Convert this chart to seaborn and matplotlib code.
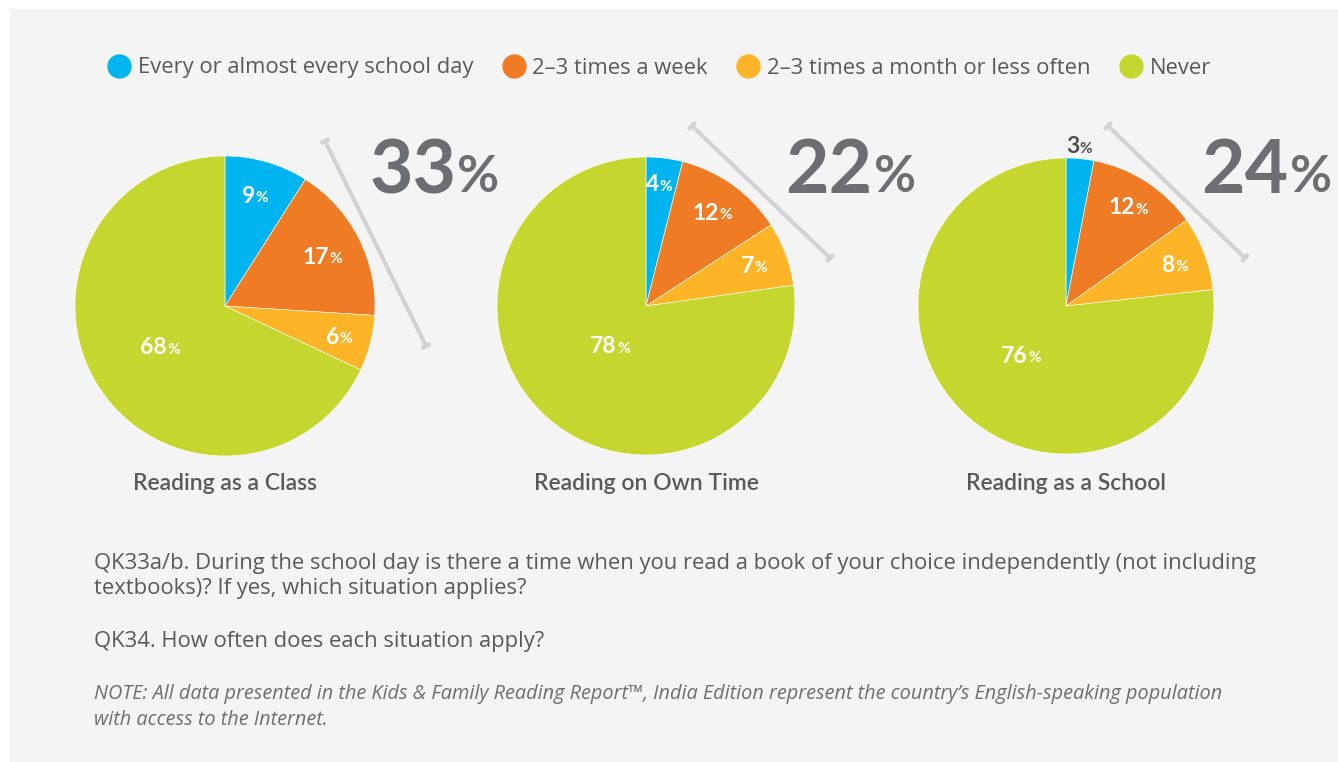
import numpy as np
import pandas as pd
import matplotlib
matplotlib.use("Agg")
import matplotlib.pyplot as plt
from matplotlib.lines import Line2D
from matplotlib.patches import Rectangle
import seaborn as sns

# ---------------- data ----------------
categories = ["Every or almost every school day", "2\u20133 times a week",
              "2\u20133 times a month or less often", "Never"]
pie_titles = ["Reading as a Class", "Reading on Own Time", "Reading as a School"]
class_vals = [9, 17, 6, 68]
own_time_vals = [4, 12, 7, 78]
school_vals = [3, 12, 8, 76]
totals = [33, 22, 24]
question1 = ("QK33a/b. During the school day is there a time when you read a book of your choice independently (not including\n"
             "textbooks)? If yes, which situation applies?")
question2 = "QK34. How often does each situation apply?"
note = ("NOTE: All data presented in the Kids & Family Reading Report\u2122, India Edition represent the country\u2019s English-speaking population\n"
        "with access to the Internet.")

# ---------------- style ----------------
sns.set_theme(style="white")
plt.rcParams['font.family'] = ['Lato', 'DejaVu Sans']
BODY = ['Open Sans', 'DejaVu Sans']
palette = sns.color_palette(["#00b5ef", "#f07b25", "#fdb426", "#c5d72f"])
TXT = "#58595b"
BIG = "#6d6e71"
BG = "#f4f4f4"
W, H = 1338, 762

fig = plt.figure(figsize=(W / 100, H / 100), dpi=100, facecolor="white")
bg = fig.add_axes([0, 0, 1, 1], zorder=0)
bg.set_xlim(0, W)
bg.set_ylim(H, 0)
bg.axis("off")
bg.add_patch(Rectangle((10, 9), W - 10, H - 9, color=BG, zorder=0))

series = [class_vals, own_time_vals, school_vals]
centers = [(225, 306, 150), (646, 306, 149), (1066, 306, 148)]
label_dist = [[0.77, 0.74, 0.80, 0.50],
              [0.83, 0.78, 0.79, 0.35],
              [1.09, 0.80, 0.80, 0.44]]

for i, (vals, (cx, cy, r)) in enumerate(zip(series, centers)):
    ax = fig.add_axes([(cx - r) / W, (H - cy - r) / H, 2 * r / W, 2 * r / H], zorder=1)
    wedges, _ = ax.pie(vals, colors=palette, startangle=90, counterclock=False,
                       radius=1, wedgeprops=dict(edgecolor="white", linewidth=0.4))
    ax.set_xlim(-1, 1)
    ax.set_ylim(-1, 1)
    ax.set_aspect("auto")
    ax.axis("off")
    ax.patch.set_alpha(0)
    for j, (w, v) in enumerate(zip(wedges, vals)):
        ang = np.deg2rad((w.theta1 + w.theta2) / 2)
        d = label_dist[i][j]
        s = str(v)
        col = "white" if d < 1 else "#4d4e50"
        dx = (7 * len(s) - 9) / r
        x = d * np.cos(ang) + dx
        y = d * np.sin(ang) - 8 / r
        t = ax.text(x, y, s, ha="right", va="baseline", fontsize=16.5,
                    fontweight="bold", color=col)
        ax.annotate("%", xy=(1, 0), xycoords=t, xytext=(0.3, 1.2),
                    textcoords="offset points", ha="left", va="bottom",
                    fontsize=11, fontweight="bold", color=col)
    bg.text(cx, 484, pie_titles[i], ha="center", va="center", fontsize=16.5,
            color=TXT, fontweight="semibold")

# brackets and big totals
brackets = [((325, 141), (426, 346)), ((692, 126), (830, 258)), ((1108, 126), (1245, 258))]
big_pos = [(369, 193), (785, 193), (1201, 193)]
for (p0, p1), (bx, by), tot in zip(brackets, big_pos, totals):
    p0 = np.array(p0, float)
    p1 = np.array(p1, float)
    v = (p1 - p0) / np.linalg.norm(p1 - p0)
    n = np.array([-v[1], v[0]])
    bg.plot([p0[0], p1[0]], [p0[1], p1[1]], color="#d1d2d4", lw=3, solid_capstyle="butt", zorder=2)
    for p in (p0, p1):
        a = p - n * 5
        b = p + n * 5
        bg.plot([a[0], b[0]], [a[1], b[1]], color="#d1d2d4", lw=3, solid_capstyle="butt", zorder=2)
    t = bg.text(bx, by, str(tot), ha="left", va="baseline", fontsize=54,
                color=BIG, fontweight="bold")
    bg.annotate("%", xy=(1, 0), xycoords=t, xytext=(1, 3.6), textcoords="offset points",
                ha="left", va="bottom", fontsize=37, color=BIG, fontweight="bold")

# legend
handles = [Line2D([], [], marker="o", ls="", markersize=16.5, color=c) for c in palette]
fig.legend(handles, categories, ncol=4, loc="center left",
           bbox_to_anchor=(86 / W, 1 - 68 / H), frameon=False,
           handletextpad=0.25, columnspacing=1.25, labelcolor=TXT, handlelength=1.2,
           prop=dict(family=BODY, size=15.8))

# question text and note
bg.text(94, 576, question1, ha="left", va="center", fontsize=15.8, color=TXT,
        family=BODY, linespacing=1.2)
bg.text(94, 642, question2, ha="left", va="center", fontsize=15.8, color=TXT,
        family=BODY)
bg.text(94, 707, note, ha="left", va="center", fontsize=14.3, color=BIG,
        style="italic", family=BODY, linespacing=1.35)

fig.savefig("out.png", dpi=100, facecolor="white")
